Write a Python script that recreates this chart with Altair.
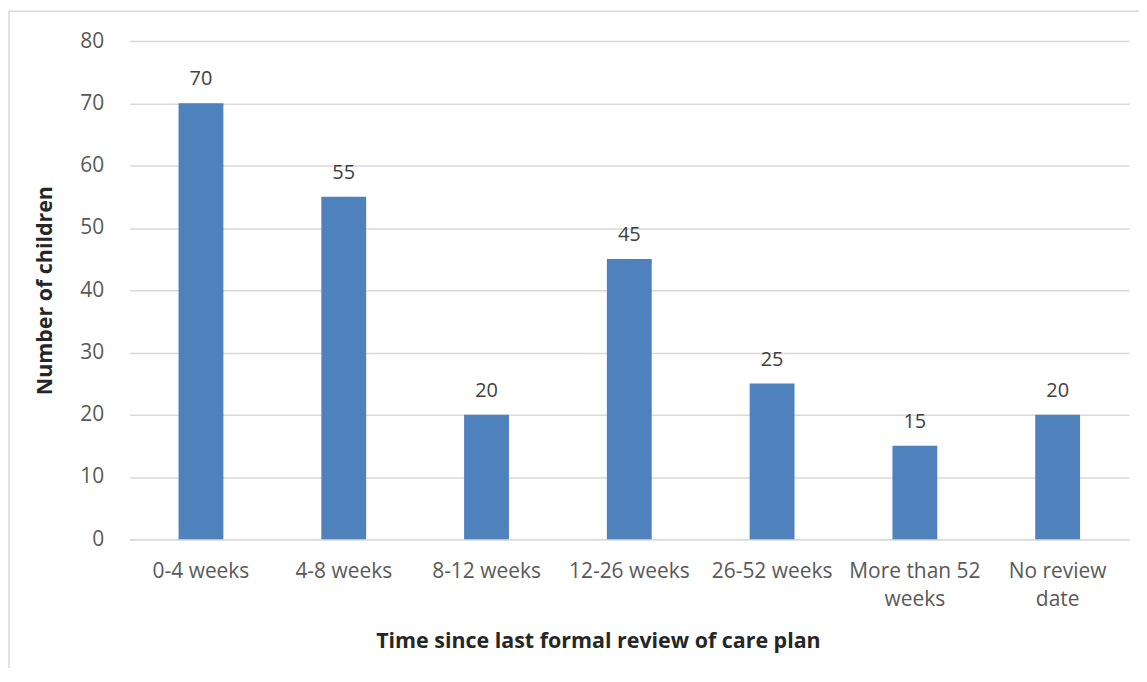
import altair as alt
import pandas as pd

categories = ["0-4 weeks", "4-8 weeks", "8-12 weeks", "12-26 weeks", "26-52 weeks",
              "More than 52 weeks", "No review date"]
values = [70, 55, 20, 45, 25, 15, 20]
wrapped = {"More than 52 weeks": ["More than 52", "weeks"],
           "No review date": ["No review", "date"]}

df = pd.DataFrame({"cat": categories, "n": values})

expr = "datum.label"
for k, v in wrapped.items():
    expr = f"datum.label == '{k}' ? ['{v[0]}', '{v[1]}'] : ({expr})"

FONT = "Open Sans"
GREY = "#d9d9d9"
TXT = "#595959"

x = alt.X("cat:N", sort=categories,
          scale=alt.Scale(paddingInner=0.686, paddingOuter=0.343),
          axis=alt.Axis(title="Time since last formal review of care plan",
                        labelAngle=0, labelExpr=expr, labelLimit=300,
                        labelPadding=21, labelLineHeight=28, ticks=False,
                        domainColor=GREY, domainWidth=1.5,
                        titleX=470, titleY=103, titleAlign="center",
                        titleBaseline="middle", titleAnchor="start"))
y = alt.Y("n:Q", scale=alt.Scale(domain=[0, 80]),
          axis=alt.Axis(title="Number of children", values=list(range(0, 81, 10)),
                        domain=False, ticks=False, labelPadding=26,
                        gridColor=GREY, gridWidth=1.5,
                        titleX=-84, titleY=250, titleAngle=270,
                        titleAlign="center", titleBaseline="middle",
                        titleAnchor="start"))

bars = alt.Chart(df).mark_bar(color="#4f81bd").encode(x=x, y=y)
labels = alt.Chart(df).mark_text(baseline="alphabetic", dy=-18, fontSize=20,
                                 font=FONT, color="#404040").encode(
    x=alt.X("cat:N", sort=categories), y="n:Q", text="n:Q")

border = alt.Chart(alt.Data(values=[{}])).mark_rect(
    fill=None, stroke=GREY, strokeWidth=1.5).encode(
    x=alt.value(-121), x2=alt.value(1100), y=alt.value(-30), y2=alt.value(720))

chart = alt.layer(border, bars, labels).properties(
    width=1003, height=500,
    background="white",
    autosize=alt.AutoSizeParams(type="none"),
    padding={"left": 122, "top": 32, "right": 10, "bottom": 128},
).configure_view(stroke=None).configure_axis(
    labelFont=FONT, labelFontSize=21, labelColor=TXT,
    titleFont=FONT, titleFontSize=21.5, titleFontWeight="bold", titleColor="#262626",
)

chart.save("out.html", embed_options={"renderer": "svg", "actions": False})
